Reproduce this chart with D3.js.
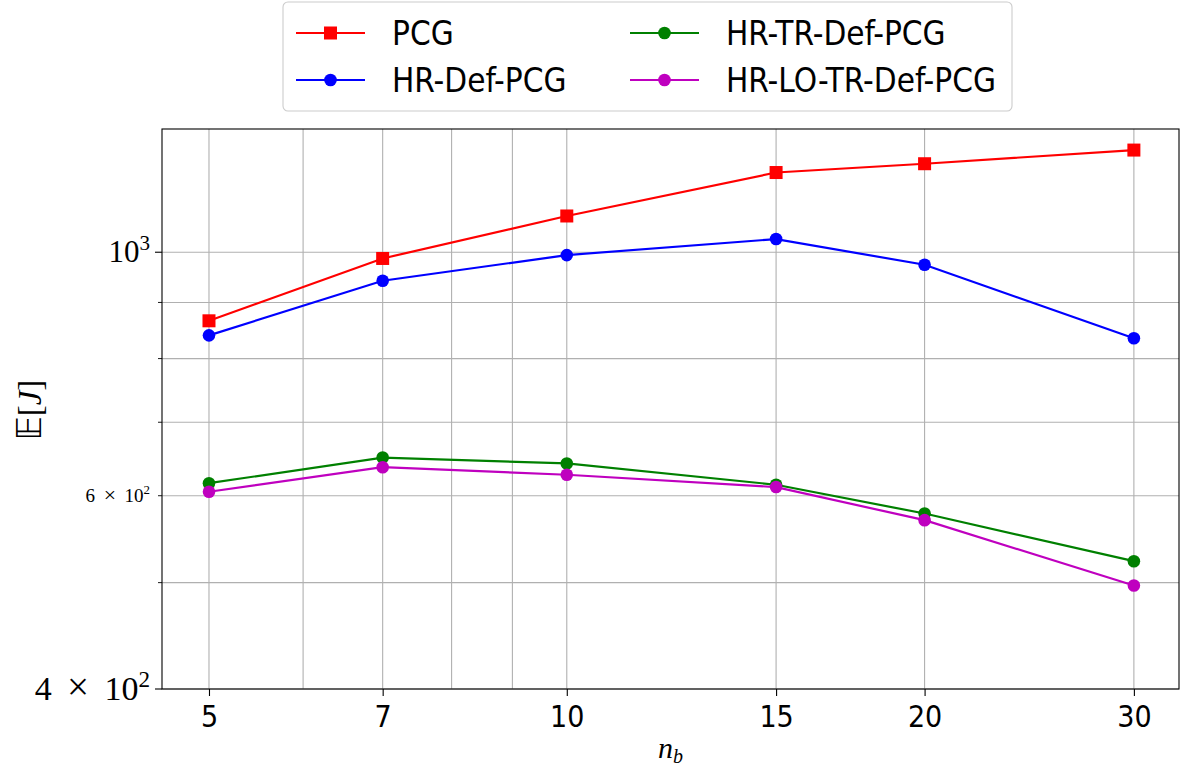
<!DOCTYPE html>
<html>
<head>
<meta charset="utf-8">
<script src="https://cdn.jsdelivr.net/npm/d3@7"></script>
<style>
  html, body { margin: 0; padding: 0; background: #fff; }
  svg { display: block; }
  .sans { font-family: "DejaVu Sans Condensed", "DejaVu Sans", sans-serif; font-stretch: condensed; }
  .serif { font-family: "Liberation Serif", "DejaVu Serif", serif; }
</style>
</head>
<body>
<svg id="chart" width="1183" height="772"></svg>
<script>
// ---- data ----
const nb = [5, 7, 10, 15, 20, 30];
const xTickLabels = ["5", "7", "10", "15", "20", "30"];
const xGridValues = [5, 6, 7, 8, 9, 10, 15, 20, 30];
const yGridValues = [400, 500, 600, 700, 800, 900, 1000];
const seriesNames = ["PCG", "HR-Def-PCG", "HR-TR-Def-PCG", "HR-LO-TR-Def-PCG"];
const pcg        = [866, 987, 1079, 1182, 1204, 1239];
const hrDefPcg   = [840, 942, 994, 1028, 974, 835];
const hrTrDefPcg = [616, 650, 642, 614, 578, 523];
const hrLoTrDefPcg = [605, 637, 627, 611, 570, 497];
const seriesValues = [pcg, hrDefPcg, hrTrDefPcg, hrLoTrDefPcg];
const seriesColors = ["#ff0000", "#0000ff", "#008000", "#bf00bf"];
const seriesMarkers = ["square", "circle", "circle", "circle"];

// ---- layout ----
const L = 162, R = 1179, T = 129, B = 689;
const svg = d3.select("#chart");

const x = d3.scaleLog().domain([4.565, 32.74]).range([L, R]);
const y = d3.scaleLog().domain([400, 1295]).range([B, T]);

// grid
const grid = svg.append("g");
grid.selectAll("line.gx").data(xGridValues).join("line")
  .attr("x1", d => x(d)).attr("x2", d => x(d))
  .attr("y1", T).attr("y2", B)
  .attr("stroke", "#b0b0b0").attr("stroke-width", 1.1);
grid.selectAll("line.gy").data(yGridValues).join("line")
  .attr("y1", d => y(d)).attr("y2", d => y(d))
  .attr("x1", L).attr("x2", R)
  .attr("stroke", "#b0b0b0").attr("stroke-width", 1.1);

// series
const line = d3.line().x((d, i) => x(nb[i])).y(d => y(d));
seriesValues.forEach((vals, s) => {
  const g = svg.append("g");
  g.append("path").datum(vals).attr("d", line)
    .attr("fill", "none").attr("stroke", seriesColors[s]).attr("stroke-width", 2.2);
  if (seriesMarkers[s] === "square") {
    g.selectAll("rect").data(vals).join("rect")
      .attr("x", (d, i) => x(nb[i]) - 6.5).attr("y", d => y(d) - 6.5)
      .attr("width", 13).attr("height", 13).attr("fill", seriesColors[s]);
  } else {
    g.selectAll("circle").data(vals).join("circle")
      .attr("cx", (d, i) => x(nb[i])).attr("cy", d => y(d))
      .attr("r", 6.3).attr("fill", seriesColors[s]);
  }
});

// x axis
const xAxis = d3.axisBottom(x).tickValues(nb).tickFormat((d, i) => xTickLabels[i])
  .tickSize(7).tickSizeOuter(0);
const gx = svg.append("g").attr("transform", `translate(0,${B})`).call(xAxis);
gx.select(".domain").remove();
gx.selectAll(".tick line").attr("stroke", "#000").attr("stroke-width", 1.1);
gx.selectAll(".tick text").attr("class", "sans").attr("font-size", 30).attr("fill", "#000")
  .attr("dy", 0).attr("y", 38);

// y axis ticks (major/minor) drawn via scale
const yMajor = [400, 1000];
const yMinor = [500, 600, 700, 800, 900];
const gy = svg.append("g");
gy.selectAll("line.maj").data(yMajor).join("line")
  .attr("x1", L - 7).attr("x2", L).attr("y1", d => y(d)).attr("y2", d => y(d))
  .attr("stroke", "#000").attr("stroke-width", 1.1);
gy.selectAll("line.min").data(yMinor).join("line")
  .attr("x1", L - 4).attr("x2", L).attr("y1", d => y(d)).attr("y2", d => y(d))
  .attr("stroke", "#000").attr("stroke-width", 0.9);

// y tick labels
function addLabel(val, mant, exp, size) {
  const t = gy.append("text").attr("class", "serif")
    .attr("x", L - 12).attr("y", y(val) + size * 0.33)
    .attr("text-anchor", "end").attr("font-size", size).attr("fill", "#000");
  if (mant) {
    t.append("tspan").text(mant);
    t.append("tspan").attr("dx", size * 0.45).attr("font-size", size * 1.15).text("\u00d7");
    t.append("tspan").attr("dx", size * 0.45).text("10");
  } else {
    t.append("tspan").text("10");
  }
  t.append("tspan").attr("font-size", size * 0.68).attr("dy", -size * 0.4).text(exp);
}
addLabel(1000, null, "3", 31);
addLabel(400, "4", "2", 34);
addLabel(600, "6", "2", 19);

// spines
svg.append("rect").attr("x", L).attr("y", T).attr("width", R - L).attr("height", B - T)
  .attr("fill", "none").attr("stroke", "#000").attr("stroke-width", 1.1);

// axis labels
svg.append("text").attr("class", "serif").attr("x", (L + R) / 2).attr("y", 758)
  .attr("text-anchor", "middle").attr("font-size", 30).attr("font-style", "italic")
  .text("n").append("tspan").attr("font-size", 20).attr("dy", 5).text("b");

const yl = svg.append("text").attr("class", "serif")
  .attr("transform", "translate(41,410) rotate(-90)")
  .attr("text-anchor", "middle").attr("font-size", 33);
yl.append("tspan").attr("font-family", "DejaVu Sans").text("\u{1D53C}");
yl.append("tspan").text("[");
yl.append("tspan").attr("font-style", "italic").text("J");
yl.append("tspan").text("]");

// legend
const lg = svg.append("g");
lg.append("rect").attr("x", 283).attr("y", 2).attr("width", 729).attr("height", 109)
  .attr("rx", 5).attr("fill", "#fff").attr("stroke", "#cccccc").attr("stroke-width", 1.1);
const legPos = [[296, 33], [296, 80], [630, 33], [630, 80]];
seriesNames.forEach((name, s) => {
  const [lx, ly] = legPos[s];
  lg.append("line").attr("x1", lx).attr("x2", lx + 69).attr("y1", ly).attr("y2", ly)
    .attr("stroke", seriesColors[s]).attr("stroke-width", 2.2);
  if (seriesMarkers[s] === "square") {
    lg.append("rect").attr("x", lx + 34.5 - 6.5).attr("y", ly - 6.5).attr("width", 13).attr("height", 13)
      .attr("fill", seriesColors[s]);
  } else {
    lg.append("circle").attr("cx", lx + 34.5).attr("cy", ly).attr("r", 6.3).attr("fill", seriesColors[s]);
  }
  lg.append("text").attr("class", "sans").attr("x", lx + 96).attr("y", ly + 12)
    .attr("font-size", 33).attr("fill", "#000").text(name);
});
</script>
</body>
</html>
